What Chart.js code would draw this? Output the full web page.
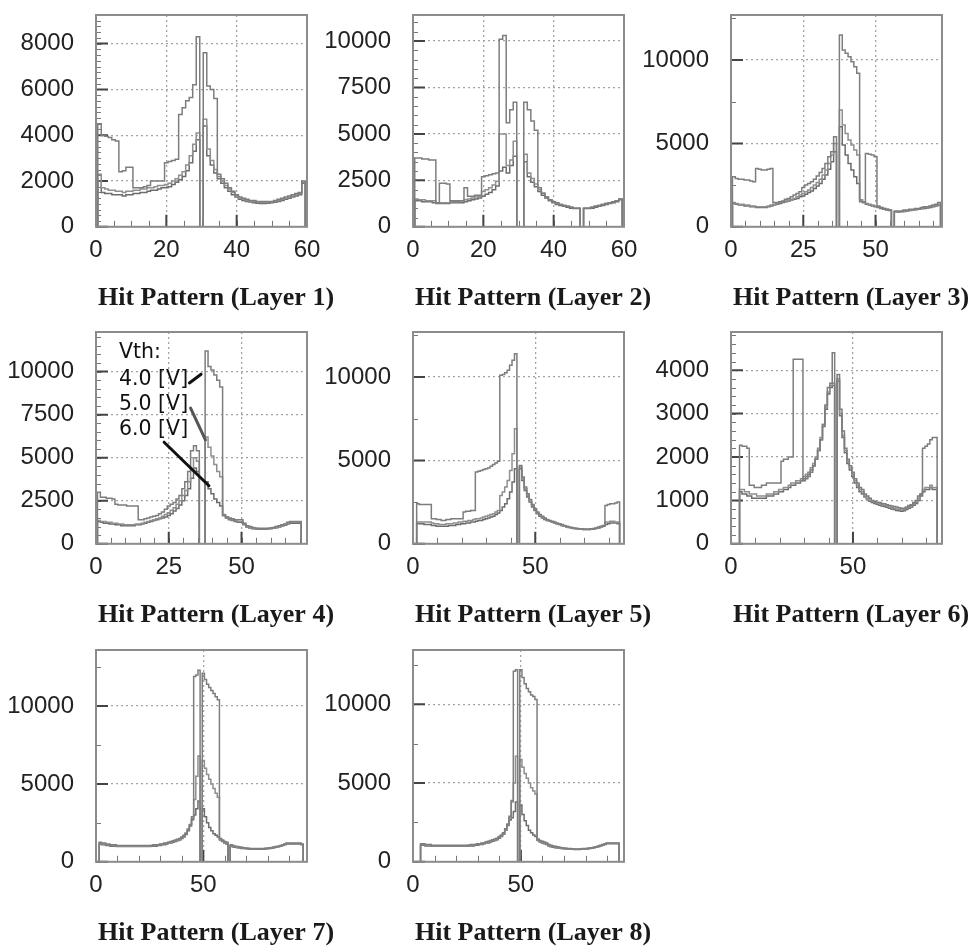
<!DOCTYPE html>
<html>
<head>
<meta charset="utf-8">
<script src="https://cdn.jsdelivr.net/npm/chart.js@4.4.1/dist/chart.umd.min.js"></script>
<style>
  body { margin: 0; background: #fff; width: 973px; height: 948px; position: relative; overflow: hidden; }
  .cell { position: absolute; width: 432px; height: 317px; }
</style>
</head>
<body>
<div class="cell" style="left:0px;top:0px"><canvas id="hp1" width="432" height="317"></canvas></div>
<div class="cell" style="left:317px;top:0px"><canvas id="hp2" width="432" height="317"></canvas></div>
<div class="cell" style="left:635px;top:0px"><canvas id="hp3" width="432" height="317"></canvas></div>
<div class="cell" style="left:0px;top:317px"><canvas id="hp4" width="432" height="317"></canvas></div>
<div class="cell" style="left:317px;top:317px"><canvas id="hp5" width="432" height="317"></canvas></div>
<div class="cell" style="left:635px;top:317px"><canvas id="hp6" width="432" height="317"></canvas></div>
<div class="cell" style="left:0px;top:635px"><canvas id="hp7" width="432" height="317"></canvas></div>
<div class="cell" style="left:317px;top:635px"><canvas id="hp8" width="432" height="317"></canvas></div>
<script>
// Panel titles, axis ranges and tick labels
var titles = ['Hit Pattern (Layer 1)', 'Hit Pattern (Layer 2)', 'Hit Pattern (Layer 3)', 'Hit Pattern (Layer 4)',
              'Hit Pattern (Layer 5)', 'Hit Pattern (Layer 6)', 'Hit Pattern (Layer 7)', 'Hit Pattern (Layer 8)'];
var xMax = [60, 60, 73, 72.5, 86.3, 86.5, 98.3, 97.8];
var yMax = [9250, 11400, 12700, 12300, 12700, 4880, 13600, 13450];
var xTicks1 = [0, 20, 40, 60];
var xTicks2 = [0, 25, 50];
var xTicks3 = [0, 50];
var yTicks1 = [0, 2000, 4000, 6000, 8000];
var yTicks2 = [0, 2500, 5000, 7500, 10000];
var yTicks3 = [0, 5000, 10000];
var yTicks4 = [0, 1000, 2000, 3000, 4000];
var panelXTicks = [xTicks1, xTicks1, xTicks2, xTicks2, xTicks3, xTicks3, xTicks3, xTicks3];
var panelYTicks = [yTicks1, yTicks2, yTicks3, yTicks2, yTicks3, yTicks4, yTicks3, yTicks3];
var xMinor = [5, 5, 5, 5, 10, 10, 10, 10];
var yMinor = [250, 500, 2500, 500, 2500, 200, 2500, 2500];

// Threshold voltages of the three series
var vthLabels = ['4.0 [V]', '5.0 [V]', '6.0 [V]'];

// First channel number of each panel's series
var firstCh = [1, 1, 1, 1, 2, 4, 2, 4];

// Layer 1, counts per channel
var p1A = [4500,4000,3950,3900,3800,3750, 2400,2450,2600,2600, 1700,1700,1700,1750,1800, 2000,2000,2000,2000,
  2800,2850,2900,2950, 4900,5200,5500,5650,6200,8300, 0, 7600,6150,6000,5600, 2300,2100,1900,1700,1550,1400,
  1300,1250,1200,1150,1150,1100,1100,1100,1100,1100, 1150,1200,1250,1300,1350,1400,1450,1500,2000];
var p1B = [2300,1700,1650,1600,1600,1550,1550,1500,1550,1550, 1600,1600,1650,1650,1700,1700,1750,1800,1800,1850,
  1900,2000,2100,2250,2400,2700,3100,3600,4100,0, 4700,3400,2900,2500,2200,2000,1800,1650,1500,1350,
  1250,1200,1150,1120,1100,1080,1060,1060,1060,1080, 1100,1150,1200,1250,1300,1350,1400,1450,1950];
var p1C = [2000,1500,1450,1450,1400,1400,1400,1350,1400,1400, 1450,1450,1500,1500,1550,1600,1600,1650,1700,1700,
  1750,1850,1950,2050,2200,2450,2800,3300,3800,0, 4400,3100,2700,2350,2100,1900,1700,1550,1400,1300,
  1200,1150,1100,1080,1050,1030,1020,1020,1030,1050, 1070,1100,1150,1200,1250,1300,1350,1400,1900];

// Layer 2
var p2A = [3700,3700,3650,3650,3600,3600, 1300, 2350,2350,2300, 1400,1400,1400,1400, 2100, 1650,1650,1700,1700,
  2700,2750,2800,2850,2900, 10100,10300, 5600,6300,6700, 0,0, 6700,6300,5700,5200, 2100,1800,1600,1450,1350,
  1300,1200,1150,1100,1050,1000,1000, 0, 1000,1000,1050,1100,1150,1200,1250,1300,1350,1400,1500];
var p2B = [1500,1450,1450,1400,1400,1400, 1300, 1300,1300,1300, 1350,1350,1350,1400, 1450, 1500,1550,1600,1650,
  1900,2000,2100,2250,2450, 5000,5000, 3300,3600,4600, 0,0, 3900,2900,2600,2300, 2000,1800,1600,1450,1350,
  1250,1200,1150,1100,1050,1000,1000, 0, 1000,1000,1050,1100,1150,1200,1250,1300,1350,1400,1500];
var p2C = [1400,1400,1350,1350,1350,1300, 1250, 1250,1250,1250, 1300,1300,1300,1300, 1350, 1400,1450,1500,1550,
  1650,1750,1850,2000,2200, 3000,3200, 2900,3300,3800, 0,0, 3500,2700,2400,2150, 1900,1700,1550,1400,1300,
  1200,1150,1100,1050,1000,980,980, 0, 980,990,1000,1050,1100,1150,1200,1250,1300,1350,1450];

// Layer 3
var p3A = [3000,2900,2850,2850,2800,2800,2750,2700, 3500,3450,3400,3400,3450,3500,
  1450,1450,1500,1550,1650,1700,1800,1900,2000,2100, 2350,2500,2600,2700,2850,3050,3250,3500,3800,4200,4500,5400,
  0, 11500,10600,10400,10200,9900,9600,9200, 1500,1450, 4400,4350,4300,4200, 1250,1150,1100,1050,1000, 0,
  950,950,950,1000,1000,1050,1050,1100,1100,1150,1200,1200,1250,1300,1350,1450];
var p3B = [1450,1400,1350,1350,1300,1300,1250,1250, 1200,1200,1200,1200,1250,1300,
  1350,1400,1450,1500,1550,1600,1650,1700,1800,1900, 2000,2100,2200,2350,2500,2650,2850,3100,3400,3800,4300,5000,
  0, 7000,6100,5600,5200,4900,4600,4300, 1600,1500, 1400,1350,1300,1250, 1200,1150,1100,1050,1000, 0,
  900,900,920,950,970,1000,1020,1050,1080,1100,1150,1150,1200,1250,1300,1350];
var p3C = [1400,1350,1300,1300,1250,1250,1200,1200, 1150,1150,1150,1150,1200,1250,
  1300,1350,1400,1450,1500,1550,1600,1650,1700,1800, 1850,1950,2050,2150,2300,2450,2600,2850,3100,3450,3900,4500,
  0, 6000,4900,4300,3800,3400,3000,2600, 1600,1450, 1350,1300,1250,1200, 1150,1100,1050,1000,980, 0,
  900,880,900,920,950,980,1000,1020,1050,1080,1100,1120,1150,1200,1250,1300];

// Layer 4
var p4A = [3000,2700,2700,2650,2650,2600, 2300,2250,2250,2250,2200,2200,2200,2200,
  1400,1400,1450,1500,1550,1600,1650,1750,1850,2000, 2200,2300,2400,2600,2800,3200,3600,4200,5400,5700,5400,
  0,0, 11200,10300,10100,9800,9500,9100, 1650,1550,1500,1450,1400,1400,1400,
  1200,1050,1000,950,920,900,900,900,900,920, 950,1000,1050,1100,1150,1250,1300,1300,1300,1300];
var p4B = [1350,1300,1300,1250,1250,1200, 1200,1150,1150,1100,1100,1100,1100,1150,
  1150,1200,1250,1300,1350,1400,1450,1500,1600,1700, 1800,1950,2100,2300,2500,2800,3100,3600,4300,5000,4800,
  0,0, 6200,5600,5100,4600,4200,3900, 1700,1550,1450,1400,1350,1300,1300,
  1150,1000,950,900,880,870,870,870,880,900, 920,950,1000,1050,1100,1200,1250,1250,1250,1250];
var p4C = [1300,1250,1200,1200,1150,1150, 1100,1100,1050,1050,1050,1050,1050,1100,
  1100,1150,1200,1250,1300,1350,1400,1450,1500,1550, 1650,1750,1900,2050,2250,2500,2800,3200,3800,4400,4200,
  0,0, 3600,3200,2900,2600,2400,2200, 1650,1500,1400,1350,1300,1250,1250,
  1100,980,920,880,860,850,850,850,860,880, 900,930,980,1030,1080,1150,1200,1200,1200,1200];

// Layer 5
var p5A = [2400,2350,2350,2350,2350,2350, 1500,1500,1450,1450,1400,1400,1450,1450,1500,1500,1500,1500,1500,
  1900,1950,1950,2000,2000, 4300,4350,4400,4450,4500,4550,4650,4750,4850,4950,
  10100,10150,10250,10400,10700,11000,11400, 0,
  4700,4000,3400,3000,2650,2350,2100,1900,1750,1650, 1550,1450,1400,1350,1300,1250,1200,1150,1100,1050,
  1000,980,950,930,900,900,880,880,880,900, 920,950,1000,1050,1100, 2300,2350,2400,2400,2450,2500];
var p5B = [1300,1300,1300,1300,1300,1300, 1250,1200,1200,1150,1150,1150,1200,1200,1200,1250,1250,1300,1300,
  1350,1350,1400,1400,1450, 1500,1500,1550,1600,1650,1700,1750,1800,1900,2000,
  2900,3100,3400,3800,4400,5400,6900, 0,
  4600,3900,3300,2900,2550,2300,2050,1850,1700,1600, 1500,1400,1350,1300,1250,1200,1150,1100,1050,1000,
  980,950,920,900,880,870,860,860,860,880, 900,930,970,1020,1080, 1300,1300,1350,1350,1300,1300];
var p5C = [1200,1200,1200,1150,1150,1150, 1100,1100,1050,1050,1050,1050,1050,1100,1100,1100,1150,1150,1200,
  1200,1250,1250,1300,1300, 1350,1400,1400,1450,1500,1550,1600,1650,1750,1850,
  2000,2200,2400,2700,3100,3700,4500, 0,
  4500,3800,3200,2800,2500,2200,2000,1800,1650,1550, 1450,1400,1350,1300,1250,1200,1150,1100,1050,1000,
  980,950,920,900,880,870,860,860,860,870, 890,920,950,1000,1050, 1150,1200,1250,1250,1250,1200];

// Layer 6
var p6A = [2270,2250,2250,2200, 1350,1350,1300,1300,1300,1350,1350, 1400,1400,1400,1400,1400,1400,
  1900,1950,1950,2000,2000, 4250,4250,4250,4250,
  1450,1500,1550,1650,1800,1950,2150,2400,2750,3200,3600,3700,4400, 0,
  3900,3100,2600,2200,1950,1800,1650,1500,1400,1300, 1250,1150,1100,1050,1000,980,960,950,930,920,
  900,880,870,860,850,830,820,820,850,880, 900,950,1000,1100,1150, 2200,2250,2300,2400,2450,2450];
var p6B = [1250,1250,1200,1200, 1150,1150,1150,1100,1100,1100,1100, 1150,1150,1150,1200,1200,1250,
  1250,1300,1300,1350,1400, 1400,1450,1450,1500,
  1550,1600,1650,1750,1850,2000,2200,2450,2750,3150,3500,3650,3700, 0,
  3800,3000,2500,2150,1900,1750,1600,1450,1350,1250, 1200,1100,1050,1000,980,960,940,920,900,890,
  870,850,830,820,800,790,780,790,820,850, 880,920,960,1050,1150, 1250,1300,1300,1350,1300,1300];
var p6C = [1200,1150,1150,1100, 1100,1050,1050,1050,1050,1050,1050, 1100,1100,1100,1150,1150,1200,
  1200,1250,1250,1300,1350, 1350,1400,1400,1450,
  1500,1550,1600,1700,1800,1950,2150,2400,2700,3100,3450,3600,3650, 0,
  3750,2950,2450,2100,1850,1700,1550,1400,1300,1200, 1150,1080,1030,980,950,930,910,890,870,860,
  840,820,800,790,770,760,750,760,790,820, 850,890,930,1000,1100, 1200,1250,1250,1300,1250,1250];

// Layer 7
var p7A = [1250,1200,1200,1150,1150,1100,1100,1100,1050,
  1050,1050,1050,1050,1050,1050,1050,1050,1050,1050, 1050,1050,1050,1050,1050,1050,1100,1100,1100,1150,
  1150,1200,1200,1250,1300,1350,1400,1450,1500,1600, 1700,1850,2100,2400,2900,
  11900,12000,12300,0,12100,11700,11400,11200,11000,10800,10600,10400,
  1500,1400,1300,1250,0,
  1100,1050,1000,980,950,930,900,880,870,860, 850,850,850,850,850,860,870,880,900,920,
  950,980,1000,1050,1100,1150,1200,1200,1200,1200, 1200,1200,1200,1150];
var p7B = [1200,1150,1150,1100,1100,1050,1050,1050,1000,
  1000,1000,1000,1000,1000,1000,1000,1000,1000,1000, 1000,1000,1000,1000,1000,1050,1050,1050,1100,1100,
  1150,1150,1200,1250,1250,1300,1350,1400,1450,1550, 1650,1800,2050,2350,2800,
  4000,5500,6800,0,6500,6000,5600,5300,5000,4700,4400,4150,
  1450,1350,1250,1200,0,
  1050,1000,970,940,920,900,880,860,850,840, 830,830,830,830,830,840,850,860,880,900,
  930,960,990,1030,1080,1130,1180,1180,1180,1180, 1180,1180,1180,1130];
var p7C = [1150,1100,1100,1050,1050,1000,1000,1000,980,
  980,980,980,980,980,980,980,980,980,980, 980,980,980,980,980,1000,1000,1000,1050,1050,
  1100,1100,1150,1200,1200,1250,1300,1350,1400,1500, 1600,1750,2000,2300,2700,
  3000,3400,3900,0,3400,2900,2500,2200,2000,1800,1700,1600,
  1400,1300,1200,1150,0,
  1000,950,930,900,880,860,850,830,820,810, 800,800,800,800,800,810,820,830,850,870,
  900,930,960,1000,1050,1100,1150,1150,1150,1150, 1150,1150,1150,1100];

// Layer 8
var p8A = [1150,1150,1100,1100,1100,1050,1050,
  1050,1050,1050,1050,1050,1050,1050,1050,1050,1050, 1050,1050,1050,1050,1050,1050,1100,1100,1100,1150,
  1150,1200,1200,1250,1300,1350,1400,1450,1500,1600, 1700,1850,2100,2400,2900,
  3900, 12100,12200,0,12200,11700,11300,11000,10800,10600,10500,10300,
  1450,1350,1300,1250,1200,
  1100,1050,1000,980,950,920,900,880,860,850, 840,830,820,820,820,830,840,850,860,880,
  900,930,960,1000,1050,1100,1150,1200,1200,1200, 1200,1200,1200];
var p8B = [1100,1100,1050,1050,1050,1000,1000,
  1000,1000,1000,1000,1000,1000,1000,1000,1000,1000, 1000,1000,1000,1000,1000,1050,1050,1050,1100,1100,
  1150,1150,1200,1250,1250,1300,1350,1400,1450,1550, 1650,1800,2050,2350,2800,
  3800, 5000,6700,0,6500,6000,5600,5300,5000,4700,4500,4300,
  1400,1300,1250,1200,1150,
  1050,1000,970,940,910,880,860,850,840,830, 820,810,800,800,800,810,820,830,840,860,
  880,910,940,980,1030,1080,1130,1180,1180,1180, 1180,1180,1180];
var p8C = [1050,1050,1000,1000,1000,980,980,
  980,980,980,980,980,980,980,980,980,980, 980,980,980,980,980,1000,1000,1000,1050,1050,
  1100,1100,1150,1200,1200,1250,1300,1350,1400,1500, 1600,1750,2000,2300,2650,
  2800, 3200,3800,0,3600,3000,2600,2300,2000,1850,1700,1600,
  1350,1250,1200,1150,1100,
  1000,960,930,900,880,860,840,830,820,810, 800,790,780,780,780,790,800,810,820,840,
  860,890,920,960,1000,1050,1100,1150,1150,1150, 1150,1150,1150];

var seriesA = [p1A, p2A, p3A, p4A, p5A, p6A, p7A, p8A];
var seriesB = [p1B, p2B, p3B, p4B, p5B, p6B, p7B, p8B];
var seriesC = [p1C, p2C, p3C, p4C, p5C, p6C, p7C, p8C];

// Vth legend of Layer 4, placed in data units of that panel
var noteX = 7.9;
var noteY = [11075, 9557, 8097, 6637];
var leaderFrom = [[32.1, 9340], [32.5, 7880], [23.4, 5900]];
var leaderTo = [[36.1, 9850], [37.6, 6040], [38.8, 3370]];
var leaderColor = ['#111', '#555', '#111'];

Chart.defaults.font.family = "'Liberation Sans', Arial, sans-serif";
Chart.defaults.color = '#222';

// Turn channel counts into step points at the bin edges
function histPoints(first, vals) {
    var pts = [{ x: first - 0.5, y: 0 }];
    for (var i = 0; i < vals.length; i++) {
        pts.push({ x: first + i - 0.5, y: vals[i] });
    }
    pts.push({ x: first + vals.length - 0.5, y: 0 });
    return pts;
}

// Inward tick marks and the grey frame round the plot
var frameTicks = {
    id: 'frameTicks',
    beforeDatasetsDraw: function (chart, args, opts) {
        var ctx = chart.ctx, a = chart.chartArea;
        var xs = chart.scales.x, ys = chart.scales.y;
        var v, p;
        ctx.save();
        ctx.strokeStyle = '#777';
        ctx.lineWidth = 1;
        ctx.beginPath();
        for (v = 0; v <= xs.max; v += opts.xMinor) {
            p = Math.round(xs.getPixelForValue(v)) + 0.5;
            ctx.moveTo(p, a.bottom);
            ctx.lineTo(p, a.bottom - 6);
        }
        for (v = 0; v <= ys.max; v += opts.yMinor) {
            p = Math.round(ys.getPixelForValue(v)) + 0.5;
            ctx.moveTo(a.left, p);
            ctx.lineTo(a.left + 5, p);
        }
        ctx.stroke();
        ctx.strokeStyle = '#444';
        ctx.lineWidth = 2;
        ctx.beginPath();
        xs.ticks.forEach(function (t) {
            p = xs.getPixelForValue(t.value);
            ctx.moveTo(p, a.bottom);
            ctx.lineTo(p, a.bottom - 12);
        });
        ys.ticks.forEach(function (t) {
            p = ys.getPixelForValue(t.value);
            ctx.moveTo(a.left, p);
            ctx.lineTo(a.left + 12, p);
        });
        ctx.stroke();
        ctx.restore();
    },
    afterDatasetsDraw: function (chart) {
        var ctx = chart.ctx, a = chart.chartArea;
        ctx.save();
        ctx.strokeStyle = '#8c8c8c';
        ctx.lineWidth = 2;
        ctx.strokeRect(a.left, a.top, a.right - a.left, a.bottom - a.top);
        ctx.restore();
    }
};

// Text labels with leader lines (only used on Layer 4)
var vthNotes = {
    id: 'vthNotes',
    afterDatasetsDraw: function (chart, args, opts) {
        if (!opts.show) return;
        var ctx = chart.ctx, xs = chart.scales.x, ys = chart.scales.y;
        var lines = ['Vth:'].concat(vthLabels);
        ctx.save();
        ctx.font = "20.5px 'DejaVu Sans', sans-serif";
        ctx.fillStyle = '#111';
        ctx.textAlign = 'left';
        ctx.textBaseline = 'middle';
        for (var i = 0; i < lines.length; i++) {
            ctx.fillText(lines[i], xs.getPixelForValue(noteX), ys.getPixelForValue(noteY[i]));
        }
        ctx.lineWidth = 3;
        ctx.lineCap = 'round';
        for (var j = 0; j < leaderFrom.length; j++) {
            ctx.strokeStyle = leaderColor[j];
            ctx.beginPath();
            ctx.moveTo(xs.getPixelForValue(leaderFrom[j][0]), ys.getPixelForValue(leaderFrom[j][1]));
            ctx.lineTo(xs.getPixelForValue(leaderTo[j][0]), ys.getPixelForValue(leaderTo[j][1]));
            ctx.stroke();
        }
        ctx.restore();
    }
};

function makePanel(i) {
    var ctx = document.getElementById('hp' + (i + 1)).getContext('2d');
    var colors = ['#7d7d7d', '#8f8f8f', '#6c6c6c'];
    var sets = [seriesA[i], seriesB[i], seriesC[i]];
    var datasets = sets.map(function (vals, k) {
        return {
            label: vthLabels[k],
            data: histPoints(firstCh[i], vals),
            borderColor: colors[k],
            borderWidth: 1.5,
            pointRadius: 0,
            stepped: 'before',
            fill: false
        };
    });
    var xt = panelXTicks[i], yt = panelYTicks[i];
    return new Chart(ctx, {
        type: 'line',
        data: { datasets: datasets },
        options: {
            responsive: false,
            animation: false,
            layout: { padding: { top: 15, bottom: 0, left: 0, right: 0 } },
            plugins: {
                legend: { display: false },
                tooltip: { enabled: false },
                title: {
                    display: true,
                    position: 'bottom',
                    text: titles[i],
                    color: '#1a1a1a',
                    font: { family: "'Liberation Serif', 'Times New Roman', serif", size: 26, weight: 'bold' },
                    padding: { top: 6, bottom: 3 }
                },
                frameTicks: { xMinor: xMinor[i], yMinor: yMinor[i] },
                vthNotes: { show: i === 3 }
            },
            scales: {
                x: {
                    type: 'linear',
                    min: 0,
                    max: xMax[i],
                    afterBuildTicks: function (s) { s.ticks = xt.map(function (v) { return { value: v }; }); },
                    afterFit: function (s) { s.height = 50; },
                    ticks: { padding: 9, font: { size: 24 }, maxRotation: 0, autoSkip: false, callback: function (v) { return String(v); } },
                    grid: { color: '#a3a3a3', lineWidth: 1.3, drawTicks: false },
                    border: { display: false, dash: [2, 3] }
                },
                y: {
                    type: 'linear',
                    min: 0,
                    max: yMax[i],
                    afterBuildTicks: function (s) { s.ticks = yt.map(function (v) { return { value: v }; }); },
                    afterFit: function (s) { s.width = 96; },
                    // the (invisible) tick length gives the gap between labels and plot
                    ticks: { padding: 0, font: { size: 24 }, autoSkip: false, callback: function (v) { return String(v); } },
                    grid: { color: '#a3a3a3', lineWidth: 1.3, drawTicks: true, tickLength: 22, tickColor: 'rgba(0,0,0,0)' },
                    border: { display: false, dash: [2, 3] }
                },
                // empty right-hand axis only keeps the plot width fixed
                yr: {
                    type: 'linear',
                    position: 'right',
                    afterFit: function (s) { s.width = 125; },
                    ticks: { display: false },
                    grid: { display: false },
                    border: { display: false }
                }
            }
        },
        plugins: [frameTicks, vthNotes]
    });
}

for (var i = 0; i < 8; i++) {
    makePanel(i);
}
</script>
</body>
</html>
